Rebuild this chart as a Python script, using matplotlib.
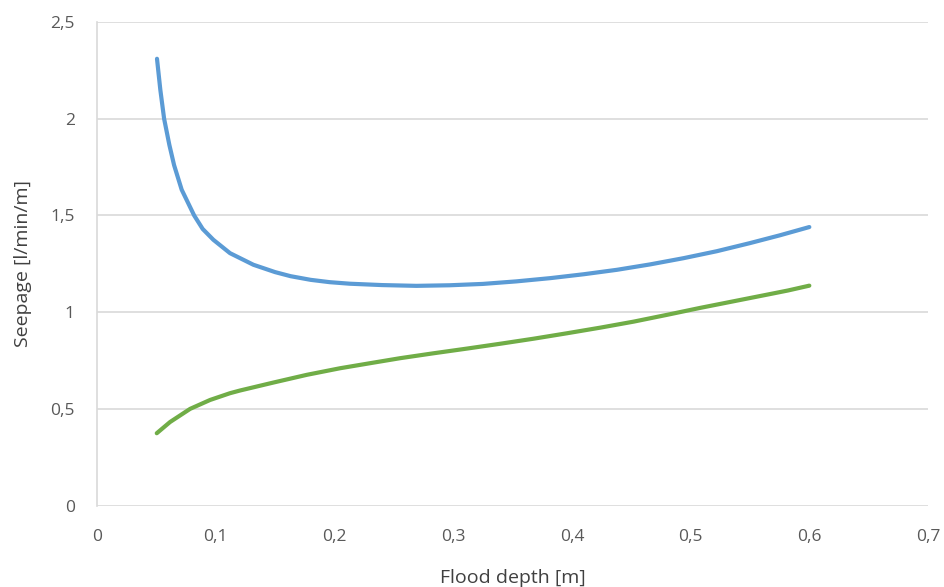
import matplotlib
matplotlib.use('Agg')
import matplotlib.pyplot as plt
from matplotlib.ticker import FuncFormatter

# values
depth_blue = [0.0505, 0.0533, 0.0565, 0.0609, 0.0649, 0.0713, 0.0818, 0.0890, 0.098, 0.112,
              0.1317, 0.150, 0.163, 0.180, 0.196, 0.213, 0.240, 0.269, 0.297, 0.325, 0.353,
              0.382, 0.410, 0.438, 0.466, 0.494, 0.522, 0.550, 0.575, 0.60]
seep_blue = [2.31, 2.15, 2.00, 1.865, 1.76, 1.633, 1.50, 1.43, 1.374, 1.305,
             1.245, 1.207, 1.186, 1.167, 1.155, 1.147, 1.140, 1.136, 1.139, 1.146, 1.159,
             1.176, 1.196, 1.219, 1.247, 1.279, 1.315, 1.357, 1.397, 1.44]

depth_green = [0.0503, 0.0615, 0.0784, 0.0952, 0.112, 0.1205, 0.1485, 0.1767, 0.2047, 0.2328,
               0.2553, 0.283, 0.312, 0.340, 0.368, 0.396, 0.424, 0.452, 0.480, 0.508,
               0.536, 0.564, 0.582, 0.60]
seep_green = [0.374, 0.432, 0.500, 0.546, 0.581, 0.595, 0.636, 0.676, 0.710, 0.739,
              0.762, 0.787, 0.812, 0.837, 0.863, 0.891, 0.920, 0.951, 0.986, 1.022,
              1.056, 1.090, 1.112, 1.137]

xticks = [0, 0.1, 0.2, 0.3, 0.4, 0.5, 0.6, 0.7]
yticks = [0, 0.5, 1, 1.5, 2, 2.5]

plt.rcParams['font.family'] = ['Open Sans', 'DejaVu Sans']

fig = plt.figure(figsize=(9.44, 5.87), dpi=100)
ax = fig.add_axes([0.1028, 0.1387, 0.8803, 0.8238])

ax.plot(depth_blue, seep_blue, color='#5b9bd5', lw=3, solid_capstyle='round', solid_joinstyle='round')
ax.plot(depth_green, seep_green, color='#70ad47', lw=3, solid_capstyle='round', solid_joinstyle='round')

ax.set_xlim(0, 0.7)
ax.set_ylim(0, 2.5)
ax.set_xticks(xticks)
ax.set_yticks(yticks)
comma = FuncFormatter(lambda v, p: ('%g' % round(v, 2)).replace('.', ','))
ax.xaxis.set_major_formatter(comma)
ax.yaxis.set_major_formatter(comma)
ax.tick_params(length=0, labelsize=12.5, labelcolor='#595959')
ax.tick_params(axis='x', pad=17)
ax.tick_params(axis='y', pad=16)

ax.grid(axis='y', color='#d9d9d9', lw=1.2)
ax.set_axisbelow(True)
for s in ['top', 'right', 'bottom']:
    ax.spines[s].set_visible(False)
ax.spines['left'].set_color('#d9d9d9')
ax.spines['left'].set_linewidth(1.2)

ax.set_xlabel('Flood depth [m]', fontsize=14, color='#404040', labelpad=17)
ax.set_ylabel('Seepage [l/min/m]', fontsize=14, color='#404040', labelpad=13)

fig.savefig('out.png', dpi=100)
